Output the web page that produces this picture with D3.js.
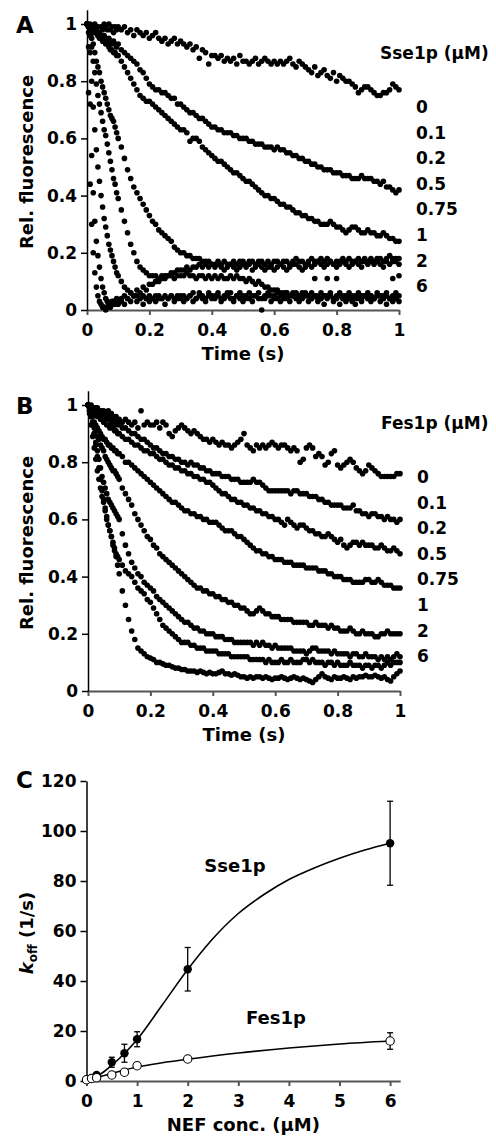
<!DOCTYPE html>
<html lang="en">
<head>
<meta charset="UTF-8"/>
<title>Sse1p / Fes1p nucleotide release</title>
<script src="https://d3js.org/d3.v7.min.js"></script>
<style>
	body { margin: 0; background-color: white; }
	svg text { font-family: "DejaVu Sans", sans-serif; font-weight: bold; fill: black; }
</style>
</head>
<body>
<script>
// sampling times of the stopped-flow traces (s)
var timeS = [0,0.005,0.01,0.015,0.02,0.025,0.03,0.035,0.04,0.045,0.05,0.055,0.06,0.065,0.07,0.075,0.08,0.085,0.09,0.095,0.1,
	0.11,0.12,0.13,0.14,0.15,0.16,0.17,0.18,0.19,0.2,
	0.21,0.22,0.23,0.24,0.25,0.26,0.27,0.28,0.29,0.3,
	0.31,0.32,0.33,0.34,0.35,0.36,0.37,0.38,0.39,0.4,
	0.41,0.42,0.43,0.44,0.45,0.46,0.47,0.48,0.49,0.5,
	0.51,0.52,0.53,0.54,0.55,0.56,0.57,0.58,0.59,0.6,
	0.61,0.62,0.63,0.64,0.65,0.66,0.67,0.68,0.69,0.7,
	0.71,0.72,0.73,0.74,0.75,0.76,0.77,0.78,0.79,0.8,
	0.81,0.82,0.83,0.84,0.85,0.86,0.87,0.88,0.89,0.9,
	0.91,0.92,0.93,0.94,0.95,0.96,0.97,0.98,0.99,1];

var concLabels = ["0", "0.1", "0.2", "0.5", "0.75", "1", "2", "6"];

// panel A: relative fluorescence with Sse1p
var sse_0 = [1.00,0.99,1.00,0.98,0.99,1.00,0.98,0.99,0.97,0.99,0.98,1.00,0.99,0.98,1.00,0.98,0.99,0.97,0.99,0.98,0.99,
	0.98,0.99,0.97,0.98,0.96,0.98,0.97,0.96,0.97,0.95,
	0.96,0.97,0.95,0.94,0.95,0.93,0.94,0.95,0.93,0.94,
	0.93,0.92,0.93,0.91,0.92,0.88,0.91,0.90,0.86,0.89,
	0.89,0.88,0.89,0.87,0.88,0.87,0.88,0.86,0.89,0.87,
	0.87,0.86,0.87,0.88,0.86,0.87,0.88,0.87,0.86,0.87,
	0.86,0.87,0.86,0.87,0.88,0.86,0.85,0.87,0.86,0.85,
	0.84,0.83,0.85,0.82,0.83,0.84,0.82,0.81,0.83,0.80,
	0.82,0.81,0.80,0.80,0.79,0.78,0.76,0.77,0.78,0.78,
	0.77,0.76,0.75,0.75,0.76,0.76,0.77,0.79,0.78,0.77];
var sse_01 = [1.00,0.99,0.98,0.99,0.97,0.98,0.97,0.96,0.97,0.96,0.95,0.96,0.95,0.94,0.95,0.94,0.93,0.94,0.93,0.92,0.93,
	0.91,0.90,0.89,0.88,0.87,0.86,0.84,0.83,0.81,0.79,
	0.78,0.77,0.77,0.76,0.76,0.75,0.74,0.74,0.72,0.72,
	0.71,0.70,0.69,0.69,0.68,0.67,0.67,0.66,0.65,0.64,
	0.64,0.63,0.63,0.62,0.62,0.62,0.61,0.61,0.60,0.60,
	0.60,0.59,0.59,0.58,0.58,0.58,0.57,0.57,0.57,0.56,
	0.57,0.56,0.56,0.55,0.55,0.54,0.54,0.53,0.53,0.52,
	0.52,0.51,0.51,0.50,0.50,0.49,0.49,0.49,0.48,0.48,
	0.48,0.47,0.47,0.47,0.46,0.46,0.46,0.47,0.46,0.46,
	0.46,0.45,0.45,0.44,0.45,0.43,0.43,0.42,0.41,0.42];
var sse_02 = [1.00,0.99,0.99,0.98,0.98,0.97,0.97,0.96,0.95,0.95,0.94,0.94,0.93,0.93,0.92,0.91,0.91,0.90,0.90,0.89,0.89,
	0.87,0.85,0.83,0.81,0.79,0.77,0.75,0.74,0.73,0.73,
	0.72,0.71,0.70,0.69,0.68,0.67,0.66,0.65,0.64,0.63,
	0.63,0.62,0.59,0.60,0.60,0.59,0.57,0.56,0.55,0.54,
	0.53,0.52,0.52,0.51,0.50,0.49,0.48,0.48,0.47,0.46,
	0.45,0.45,0.44,0.43,0.42,0.41,0.40,0.40,0.39,0.39,
	0.38,0.37,0.37,0.36,0.36,0.35,0.34,0.34,0.33,0.33,
	0.32,0.32,0.31,0.31,0.30,0.30,0.30,0.31,0.30,0.29,
	0.29,0.28,0.27,0.28,0.29,0.29,0.28,0.27,0.27,0.28,
	0.27,0.27,0.26,0.26,0.27,0.26,0.25,0.25,0.24,0.24];
var sse_05 = [1.00,0.99,0.98,0.95,0.93,0.90,0.87,0.85,0.83,0.80,0.78,0.76,0.74,0.72,0.70,0.68,0.67,0.66,0.64,0.62,0.60,
	0.57,0.53,0.49,0.46,0.43,0.41,0.39,0.37,0.35,0.33,
	0.31,0.30,0.28,0.27,0.26,0.25,0.24,0.22,0.21,0.20,
	0.20,0.19,0.19,0.18,0.18,0.18,0.17,0.17,0.17,0.16,
	0.16,0.17,0.16,0.17,0.16,0.16,0.17,0.16,0.17,0.17,
	0.16,0.17,0.17,0.16,0.17,0.17,0.16,0.17,0.16,0.17,
	0.17,0.16,0.17,0.17,0.16,0.17,0.18,0.17,0.17,0.16,
	0.17,0.18,0.17,0.17,0.18,0.17,0.18,0.17,0.16,0.17,
	0.17,0.18,0.17,0.18,0.17,0.17,0.18,0.17,0.18,0.17,
	0.18,0.17,0.18,0.18,0.17,0.18,0.19,0.18,0.17,0.18];
var sse_075 = [1.00,0.99,0.96,0.92,0.87,0.83,0.79,0.75,0.72,0.69,0.66,0.63,0.61,0.58,0.55,0.52,0.49,0.46,0.44,0.41,0.39,
	0.35,0.31,0.27,0.23,0.20,0.17,0.15,0.14,0.13,0.12,
	0.12,0.12,0.11,0.12,0.11,0.12,0.12,0.11,0.12,0.12,
	0.12,0.13,0.12,0.12,0.11,0.12,0.12,0.11,0.12,0.11,
	0.12,0.11,0.12,0.11,0.11,0.12,0.11,0.12,0.11,0.11,
	0.10,0.11,0.10,0.09,0.10,0.09,0.08,0.08,0.07,0.07,
	0.07,0.06,0.06,0.06,0.05,0.06,0.05,0.05,0.06,0.05,
	0.05,0.04,0.11,0.05,0.04,0.05,0.11,0.05,0.04,0.11,
	0.05,0.04,0.05,0.04,0.05,0.04,0.05,0.04,0.05,0.04,
	0.05,0.04,0.05,0.05,0.04,0.05,0.04,0.11,0.05,0.12];
var sse_1 = [1.00,0.97,0.90,0.80,0.71,0.63,0.56,0.50,0.45,0.40,0.36,0.32,0.29,0.26,0.23,0.21,0.19,0.17,0.15,0.13,0.12,
	0.10,0.08,0.07,0.06,0.05,0.05,0.04,0.05,0.04,0.05,
	0.04,0.05,0.04,0.04,0.05,0.04,0.05,0.04,0.05,0.04,
	0.05,0.04,0.05,0.06,0.04,0.05,0.05,0.04,0.06,0.05,
	0.05,0.06,0.04,0.05,0.05,0.06,0.04,0.05,0.06,0.05,
	0.04,0.06,0.05,0.05,0.06,0.04,0.05,0.06,0.05,0.05,
	0.06,0.05,0.04,0.06,0.05,0.05,0.06,0.04,0.05,0.06,
	0.05,0.06,0.05,0.04,0.06,0.05,0.05,0.06,0.04,0.05,
	0.06,0.05,0.05,0.06,0.04,0.05,0.06,0.05,0.05,0.06,
	0.05,0.04,0.06,0.05,0.05,0.06,0.04,0.05,0.06,0.05];
var sse_2 = [1.00,0.92,0.72,0.54,0.41,0.31,0.24,0.19,0.15,0.11,0.08,0.06,0.04,0.03,0.02,0.02,0.03,0.02,0.03,0.04,0.03,
	0.04,0.05,0.04,0.06,0.05,0.07,0.06,0.08,0.07,0.09,
	0.09,0.10,0.10,0.11,0.12,0.12,0.13,0.13,0.14,0.14,
	0.14,0.15,0.14,0.15,0.15,0.16,0.15,0.16,0.15,0.16,
	0.15,0.16,0.15,0.14,0.15,0.16,0.15,0.14,0.15,0.16,
	0.15,0.16,0.14,0.15,0.16,0.15,0.14,0.15,0.15,0.14,
	0.15,0.16,0.15,0.14,0.15,0.16,0.16,0.15,0.14,0.15,
	0.16,0.15,0.16,0.17,0.16,0.15,0.16,0.17,0.16,0.15,
	0.16,0.17,0.16,0.15,0.16,0.17,0.16,0.15,0.17,0.16,
	0.17,0.16,0.17,0.16,0.15,0.17,0.16,0.17,0.18,0.16];
var sse_6 = [1.00,0.76,0.44,0.30,0.20,0.13,0.08,0.05,0.03,0.02,0.01,0.01,0.00,0.01,0.02,0.01,0.02,0.03,0.02,0.03,0.02,
	0.03,0.02,0.04,0.03,0.05,0.03,0.04,0.02,0.04,0.03,
	0.04,0.03,0.05,0.04,0.02,0.04,0.05,0.03,0.04,0.05,
	0.03,0.04,0.05,0.03,0.04,0.06,0.04,0.03,0.05,0.04,
	0.04,0.05,0.03,0.04,0.06,0.04,0.03,0.05,0.04,0.03,
	0.05,0.04,0.03,0.05,0.04,0.00,0.04,0.05,0.03,0.04,
	0.04,0.03,0.05,0.04,0.03,0.05,0.04,0.03,0.04,0.05,
	0.03,0.04,0.05,0.03,0.04,0.02,0.04,0.05,0.03,0.04,
	0.02,0.04,0.03,0.05,0.03,0.02,0.04,0.03,0.05,0.04,
	0.03,0.04,0.05,0.03,0.04,0.02,0.04,0.03,0.04,0.03];

// panel B: relative fluorescence with Fes1p
var fes_0 = [1.00,0.99,1.00,0.98,0.99,0.98,0.99,0.97,0.98,0.97,0.98,0.96,0.97,0.98,0.96,0.97,0.96,0.95,0.96,0.95,0.95,
	0.94,0.95,0.94,0.93,0.94,0.92,0.98,0.93,0.94,0.93,
	0.93,0.94,0.92,0.94,0.93,0.90,0.89,0.91,0.92,0.93,
	0.92,0.91,0.90,0.91,0.90,0.89,0.88,0.88,0.87,0.88,
	0.87,0.86,0.87,0.86,0.86,0.85,0.86,0.87,0.88,0.90,
	0.86,0.85,0.84,0.86,0.85,0.86,0.85,0.86,0.87,0.86,
	0.85,0.86,0.86,0.85,0.84,0.85,0.84,0.80,0.81,0.85,
	0.86,0.85,0.82,0.83,0.82,0.79,0.80,0.83,0.84,0.79,
	0.78,0.79,0.80,0.81,0.80,0.78,0.77,0.76,0.77,0.79,
	0.78,0.77,0.76,0.75,0.75,0.75,0.75,0.75,0.76,0.76];
var fes_01 = [1.00,0.99,0.99,0.98,0.98,0.99,0.97,0.97,0.98,0.96,0.96,0.97,0.95,0.96,0.95,0.94,0.95,0.94,0.93,0.94,0.93,
	0.92,0.92,0.91,0.90,0.90,0.89,0.88,0.88,0.87,0.86,
	0.85,0.85,0.84,0.83,0.83,0.82,0.82,0.81,0.81,0.80,
	0.80,0.79,0.80,0.79,0.79,0.78,0.78,0.77,0.77,0.76,
	0.76,0.76,0.75,0.75,0.75,0.74,0.74,0.74,0.73,0.73,
	0.73,0.73,0.74,0.73,0.73,0.72,0.71,0.70,0.70,0.70,
	0.70,0.70,0.70,0.70,0.69,0.70,0.70,0.69,0.69,0.69,
	0.68,0.68,0.68,0.67,0.67,0.66,0.66,0.65,0.65,0.65,
	0.65,0.64,0.64,0.64,0.65,0.63,0.63,0.62,0.62,0.61,
	0.62,0.62,0.61,0.61,0.60,0.61,0.60,0.60,0.59,0.60];
var fes_02 = [1.00,0.99,0.98,0.98,0.97,0.97,0.96,0.97,0.95,0.95,0.94,0.95,0.93,0.93,0.92,0.93,0.92,0.91,0.91,0.90,0.90,
	0.89,0.88,0.88,0.87,0.86,0.86,0.85,0.84,0.84,0.83,
	0.83,0.82,0.81,0.81,0.80,0.79,0.79,0.78,0.78,0.77,
	0.77,0.76,0.76,0.75,0.75,0.74,0.74,0.73,0.73,0.72,
	0.71,0.70,0.69,0.69,0.68,0.67,0.67,0.66,0.66,0.65,
	0.65,0.64,0.64,0.63,0.63,0.62,0.62,0.61,0.61,0.60,
	0.60,0.59,0.58,0.60,0.59,0.58,0.57,0.58,0.58,0.57,
	0.56,0.56,0.55,0.55,0.54,0.54,0.55,0.54,0.53,0.52,
	0.53,0.51,0.50,0.51,0.52,0.52,0.51,0.52,0.51,0.51,
	0.51,0.50,0.50,0.51,0.50,0.49,0.49,0.50,0.49,0.48];
var fes_05 = [1.00,0.99,0.97,0.96,0.94,0.93,0.92,0.91,0.90,0.89,0.88,0.88,0.87,0.86,0.86,0.85,0.85,0.84,0.84,0.83,0.83,
	0.82,0.80,0.80,0.79,0.78,0.77,0.76,0.75,0.74,0.73,
	0.72,0.71,0.70,0.69,0.68,0.67,0.66,0.66,0.65,0.64,
	0.63,0.63,0.62,0.62,0.61,0.61,0.60,0.60,0.59,0.59,
	0.59,0.58,0.57,0.56,0.56,0.56,0.55,0.54,0.54,0.53,
	0.52,0.51,0.50,0.49,0.49,0.48,0.48,0.47,0.47,0.46,
	0.46,0.46,0.45,0.45,0.45,0.44,0.44,0.44,0.44,0.43,
	0.43,0.43,0.43,0.42,0.42,0.42,0.41,0.41,0.40,0.40,
	0.40,0.39,0.39,0.39,0.38,0.38,0.38,0.38,0.39,0.39,
	0.38,0.38,0.39,0.38,0.37,0.37,0.37,0.36,0.36,0.36];
var fes_075 = [1.00,0.98,0.96,0.94,0.92,0.91,0.89,0.88,0.86,0.85,0.84,0.82,0.81,0.80,0.79,0.78,0.77,0.77,0.76,0.75,0.74,
	0.71,0.69,0.67,0.65,0.62,0.60,0.58,0.56,0.54,0.53,
	0.51,0.50,0.48,0.47,0.46,0.45,0.44,0.43,0.42,0.41,
	0.40,0.39,0.38,0.37,0.36,0.36,0.35,0.35,0.34,0.34,
	0.33,0.33,0.32,0.32,0.31,0.31,0.30,0.30,0.29,0.29,
	0.28,0.27,0.27,0.28,0.29,0.28,0.27,0.27,0.26,0.26,
	0.26,0.25,0.25,0.25,0.25,0.24,0.24,0.24,0.24,0.24,
	0.23,0.23,0.24,0.23,0.23,0.23,0.22,0.23,0.22,0.22,
	0.21,0.21,0.21,0.22,0.21,0.20,0.20,0.21,0.20,0.20,
	0.20,0.19,0.19,0.20,0.20,0.21,0.20,0.20,0.20,0.20];
var fes_1 = [1.00,0.98,0.96,0.93,0.90,0.87,0.84,0.81,0.78,0.75,0.73,0.71,0.69,0.67,0.66,0.65,0.64,0.63,0.62,0.61,0.60,
	0.55,0.51,0.48,0.45,0.43,0.41,0.40,0.38,0.37,0.36,
	0.35,0.33,0.32,0.31,0.30,0.29,0.28,0.27,0.26,0.25,
	0.24,0.24,0.23,0.22,0.22,0.21,0.21,0.20,0.20,0.20,
	0.19,0.19,0.19,0.18,0.18,0.18,0.17,0.17,0.17,0.17,
	0.17,0.17,0.16,0.17,0.16,0.17,0.16,0.16,0.15,0.16,
	0.15,0.15,0.15,0.15,0.15,0.14,0.14,0.14,0.14,0.13,
	0.14,0.15,0.15,0.14,0.14,0.14,0.14,0.13,0.14,0.13,
	0.13,0.13,0.13,0.12,0.13,0.13,0.12,0.12,0.13,0.12,
	0.12,0.12,0.11,0.12,0.11,0.12,0.11,0.12,0.13,0.12];
var fes_2 = [1.00,0.97,0.93,0.89,0.85,0.81,0.77,0.74,0.71,0.68,0.66,0.63,0.60,0.58,0.56,0.54,0.52,0.50,0.48,0.47,0.46,
	0.44,0.42,0.41,0.40,0.38,0.36,0.35,0.34,0.32,0.31,
	0.29,0.27,0.25,0.23,0.22,0.21,0.20,0.19,0.18,0.17,
	0.17,0.17,0.16,0.16,0.15,0.15,0.15,0.14,0.14,0.14,
	0.14,0.13,0.13,0.13,0.13,0.12,0.12,0.12,0.12,0.12,
	0.12,0.11,0.11,0.11,0.11,0.11,0.10,0.11,0.10,0.10,
	0.10,0.11,0.10,0.10,0.11,0.10,0.10,0.10,0.11,0.11,
	0.10,0.11,0.10,0.10,0.10,0.09,0.10,0.10,0.09,0.10,
	0.09,0.09,0.09,0.10,0.09,0.09,0.09,0.08,0.09,0.09,
	0.08,0.09,0.09,0.08,0.09,0.10,0.09,0.10,0.10,0.10];
var fes_6 = [1.00,0.98,0.96,0.93,0.90,0.86,0.82,0.78,0.74,0.70,0.67,0.64,0.61,0.58,0.56,0.54,0.51,0.49,0.47,0.44,0.41,
	0.35,0.30,0.25,0.21,0.18,0.15,0.14,0.13,0.12,0.115,
	0.11,0.10,0.10,0.095,0.09,0.09,0.085,0.08,0.08,0.075,
	0.075,0.07,0.07,0.07,0.065,0.07,0.065,0.06,0.065,0.06,
	0.06,0.065,0.07,0.06,0.06,0.055,0.06,0.055,0.05,0.05,
	0.045,0.05,0.045,0.05,0.05,0.045,0.05,0.045,0.04,0.045,
	0.045,0.05,0.045,0.04,0.045,0.05,0.045,0.04,0.045,0.04,
	0.035,0.03,0.04,0.05,0.06,0.05,0.045,0.04,0.05,0.045,
	0.045,0.05,0.045,0.04,0.05,0.045,0.05,0.05,0.055,0.05,
	0.05,0.055,0.05,0.045,0.05,0.04,0.035,0.05,0.06,0.07];

var sseTraces = [sse_0, sse_01, sse_02, sse_05, sse_075, sse_1, sse_2, sse_6];
var fesTraces = [fes_0, fes_01, fes_02, fes_05, fes_075, fes_1, fes_2, fes_6];

// panel C: koff vs NEF concentration
var nefConc = [0, 0.1, 0.2, 0.5, 0.75, 1, 2, 6];
var sseKoff = [0.5, 1.1, 2.4, 7.5, 11.1, 16.7, 44.7, 95.1];
var sseErr  = [0, 0, 0, 2.0, 3.6, 3.0, 8.7, 16.8];
var fesKoff = [0.5, 1.0, 1.3, 2.4, 3.5, 6.1, 8.8, 16.0];
var fesErr  = [0, 0, 0, 0, 0, 0, 0, 3.3];
var sseFitX = [0, 0.1, 0.2, 0.35, 0.5, 0.75, 1, 1.5, 2, 2.5, 3, 3.5, 4, 4.5, 5, 5.5, 6];
var sseFitY = [0.5, 1.0, 1.8, 3.8, 6.3, 11.0, 16.6, 30.5, 44.6, 57.0, 67.0, 74.5, 80.6, 85.2, 89.1, 92.4, 95.1];
var fesFitX = [0, 0.2, 0.5, 0.75, 1, 1.5, 2, 3, 4, 5, 6];
var fesFitY = [0.4, 1.4, 3.0, 4.4, 5.6, 7.3, 8.7, 11.2, 13.2, 14.8, 16.0];

var fracTicks = [0, 0.2, 0.4, 0.6, 0.8, 1];
var koffTicks = [0, 20, 40, 60, 80, 100, 120];
var concTicks = [0, 1, 2, 3, 4, 5, 6];

var w = 496;
var h = 1136;

var svg = d3.select("body")
			.append("svg")
			.attr("width", w)
			.attr("height", h);

function styleAxis(g, color, width) {
	g.attr("font-size", 17);
	g.select(".domain").attr("stroke", color).attr("stroke-width", width);
	g.selectAll(".tick line").attr("stroke", color).attr("stroke-width", width);
}

function tracePanel(traces, x0, y0, letter, legendTitle, legendX, legendY) {
	var xScale = d3.scaleLinear()
					.domain([0, 1])
					.range([x0, x0 + 312]);
	var yScale = d3.scaleLinear()
					.domain([0, 1.05])
					.range([y0, y0 - 286 * 1.05]);

	var gx = svg.append("g")
				.attr("transform", "translate(0," + y0 + ")")
				.call(d3.axisBottom(xScale).tickValues(fracTicks).tickFormat(d3.format("~g"))
						.tickSize(5).tickSizeOuter(0).tickPadding(9));
	styleAxis(gx, "#555", 2);

	var gy = svg.append("g")
				.attr("transform", "translate(" + x0 + ",0)")
				.call(d3.axisLeft(yScale).tickValues(fracTicks).tickFormat(d3.format("~g"))
						.tickSize(6).tickSizeOuter(0).tickPadding(4));
	styleAxis(gy, "#000", 1.5);

	traces.forEach(function(trace) {
		svg.append("g")
			.selectAll("circle")
			.data(d3.zip(timeS, trace))
			.enter()
			.append("circle")
			.attr("cx", function(d) { return xScale(d[0]); })
			.attr("cy", function(d) { return yScale(d[1]); })
			.attr("r", 2.8)
			.attr("fill", "black");
	});

	svg.append("text")
		.attr("x", 16).attr("y", y0 - 277)
		.attr("font-size", 23)
		.text(letter);

	svg.append("text")
		.attr("transform", "translate(33," + (y0 - 148) + ") rotate(-90)")
		.attr("text-anchor", "middle")
		.attr("font-size", 18)
		.text("Rel. fluorescence");

	svg.append("text")
		.attr("x", (xScale(0) + xScale(1)) / 2).attr("y", y0 + 50)
		.attr("text-anchor", "middle")
		.attr("font-size", 18)
		.text("Time (s)");

	svg.append("text")
		.attr("x", legendX - 36).attr("y", legendY)
		.attr("font-size", 17)
		.text(legendTitle);

	svg.append("g")
		.selectAll("text")
		.data(concLabels)
		.enter()
		.append("text")
		.attr("x", legendX)
		.attr("y", function(d, i) { return legendY + 54 + i * 25.6; })
		.attr("font-size", 17)
		.text(function(d) { return d; });
}

tracePanel(sseTraces, 87, 310, "A", "Sse1p (\u00B5M)", 416, 59);
tracePanel(fesTraces, 88, 691, "B", "Fes1p (\u00B5M)", 417, 429);

// panel C
var xC = d3.scaleLinear().domain([0, 6.2]).range([86.5, 86.5 + 50.6 * 6.2]);
var yC = d3.scaleLinear().domain([0, 120]).range([1081, 781]);

var gxC = svg.append("g")
			.attr("transform", "translate(0,1081)")
			.call(d3.axisBottom(xC).tickValues(concTicks).tickFormat(d3.format("d"))
					.tickSize(5).tickSizeOuter(0).tickPadding(9));
styleAxis(gxC, "#555", 2);

var gyC = svg.append("g")
			.attr("transform", "translate(86.5,0)")
			.call(d3.axisLeft(yC).tickValues(koffTicks).tickFormat(d3.format("d"))
					.tickSize(6).tickSizeOuter(0).tickPadding(4));
styleAxis(gyC, "#000", 1.5);

var line = d3.line()
			.x(function(d) { return xC(d[0]); })
			.y(function(d) { return yC(d[1]); })
			.curve(d3.curveMonotoneX);

svg.append("path")
	.attr("d", line(d3.zip(sseFitX, sseFitY)))
	.attr("fill", "none").attr("stroke", "black").attr("stroke-width", 1.6);
svg.append("path")
	.attr("d", line(d3.zip(fesFitX, fesFitY)))
	.attr("fill", "none").attr("stroke", "black").attr("stroke-width", 1.6);

function errorBars(koff, err) {
	var g = svg.append("g").attr("stroke", "black").attr("stroke-width", 1.3);
	nefConc.forEach(function(c, i) {
		if (err[i] <= 0) return;
		var x = xC(c);
		g.append("line").attr("x1", x).attr("x2", x).attr("y1", yC(koff[i] - err[i])).attr("y2", yC(koff[i] + err[i]));
		g.append("line").attr("x1", x - 3).attr("x2", x + 3).attr("y1", yC(koff[i] - err[i])).attr("y2", yC(koff[i] - err[i]));
		g.append("line").attr("x1", x - 3).attr("x2", x + 3).attr("y1", yC(koff[i] + err[i])).attr("y2", yC(koff[i] + err[i]));
	});
}
errorBars(sseKoff, sseErr);
errorBars(fesKoff, fesErr);

svg.append("g")
	.selectAll("circle")
	.data(d3.zip(nefConc, sseKoff))
	.enter()
	.append("circle")
	.attr("cx", function(d) { return xC(d[0]); })
	.attr("cy", function(d) { return yC(d[1]); })
	.attr("r", 4.2)
	.attr("fill", "black");

svg.append("g")
	.selectAll("circle")
	.data(d3.zip(nefConc, fesKoff))
	.enter()
	.append("circle")
	.attr("cx", function(d) { return xC(d[0]); })
	.attr("cy", function(d) { return yC(d[1]); })
	.attr("r", 4.2)
	.attr("fill", "white")
	.attr("stroke", "black")
	.attr("stroke-width", 1.1);

svg.append("text").attr("x", 16).attr("y", 788).attr("font-size", 23).text("C");
svg.append("text").attr("x", 235).attr("y", 872).attr("text-anchor", "middle").attr("font-size", 18).text("Sse1p");
svg.append("text").attr("x", 276).attr("y", 1024).attr("text-anchor", "middle").attr("font-size", 18).text("Fes1p");

var koffLabel = svg.append("text")
					.attr("transform", "translate(33,933) rotate(-90)")
					.attr("text-anchor", "middle")
					.attr("font-size", 18);
koffLabel.append("tspan").attr("font-style", "italic").text("k");
koffLabel.append("tspan").attr("font-size", 12).attr("dy", 4).text("off");
koffLabel.append("tspan").attr("dy", -4).text(" (1/s)");

svg.append("text")
	.attr("x", (xC(0) + xC(6.2)) / 2).attr("y", 1131)
	.attr("text-anchor", "middle")
	.attr("font-size", 18)
	.text("NEF conc. (\u00B5M)");
</script>
</body>
</html>
